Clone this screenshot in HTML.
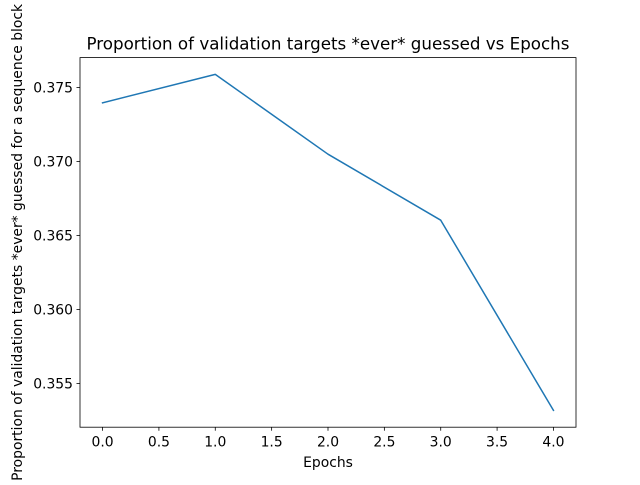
<!DOCTYPE html>
<html><head><meta charset="utf-8"><style>
body{margin:0;background:#fff;}
svg text{font-family:"DejaVu Sans","Liberation Sans",sans-serif;fill:#000;}
</style></head><body>
<svg id="chart" width="640" height="480" viewBox="0 0 640 480" xmlns="http://www.w3.org/2000/svg">
<rect width="640" height="480" fill="#fff"/>
<text x="328" y="49.5" font-size="16.7" text-anchor="middle">Proportion of validation targets *ever* guessed vs Epochs</text>
<g id="xt"></g><g id="yt"></g>
<path id="line" fill="none" stroke="#1f77b4" stroke-width="1.5" stroke-linejoin="round" stroke-linecap="square"/>
<rect x="80" y="57.6" width="496" height="369.6" fill="none" stroke="#000" stroke-width="0.8"/>
<text x="328" y="467" font-size="13.9" text-anchor="middle">Epochs</text>
<text transform="translate(22,242.4) rotate(-90)" font-size="13.9" text-anchor="middle">Proportion of validation targets *ever* guessed for a sequence block</text>
</svg>
<script>
const epochs=[0,1,2,3,4];
const values=[0.37396,0.37588,0.37049,0.36603,0.35318];
const xTicks=[0,0.5,1,1.5,2,2.5,3,3.5,4];
const xTickLabels=["0.0","0.5","1.0","1.5","2.0","2.5","3.0","3.5","4.0"];
const yTicks=[0.355,0.360,0.365,0.370,0.375];
const yTickLabels=["0.355","0.360","0.365","0.370","0.375"];
const L=80,R=576,T=57.6,B=427.2,NS='http://www.w3.org/2000/svg';
const xmin=Math.min(...epochs),xmax=Math.max(...epochs),xm=(xmax-xmin)*0.05;
const ymin=Math.min(...values),ymax=Math.max(...values),ym=(ymax-ymin)*0.05;
const X=v=>L+(v-(xmin-xm))/((xmax+xm)-(xmin-xm))*(R-L);
const Y=v=>B-(v-(ymin-ym))/((ymax+ym)-(ymin-ym))*(B-T);
document.getElementById('line').setAttribute('d',epochs.map((e,i)=>(i?'L':'M')+X(e).toFixed(2)+','+Y(values[i]).toFixed(2)).join(''));
const xt=document.getElementById('xt'),yt=document.getElementById('yt');
xTicks.forEach((t,i)=>{
 const l=document.createElementNS(NS,'line');
 
 
 l.setAttribute('x1',X(t));l.setAttribute('x2',X(t));l.setAttribute('y1',B);l.setAttribute('y2',B+3.5);l.setAttribute('stroke','#000');l.setAttribute('stroke-width','0.8');xt.appendChild(l);
 const s=document.createElementNS(NS,'text');
 
 
 s.setAttribute('x',X(t));s.setAttribute('y',B+19.5);s.setAttribute('font-size','13.9');s.setAttribute('text-anchor','middle');s.textContent=xTickLabels[i];xt.appendChild(s);
});
yTicks.forEach((t,i)=>{
 const l=document.createElementNS(NS,'line');
 
 
 l.setAttribute('x1',L-3.5);l.setAttribute('x2',L);l.setAttribute('y1',Y(t));l.setAttribute('y2',Y(t));l.setAttribute('stroke','#000');l.setAttribute('stroke-width','0.8');yt.appendChild(l);
 const s=document.createElementNS(NS,'text');
 
 
 s.setAttribute('x',L-7);s.setAttribute('y',Y(t)+5);s.setAttribute('font-size','13.9');s.setAttribute('text-anchor','end');s.textContent=yTickLabels[i];yt.appendChild(s);
});
</script>
</body></html>
